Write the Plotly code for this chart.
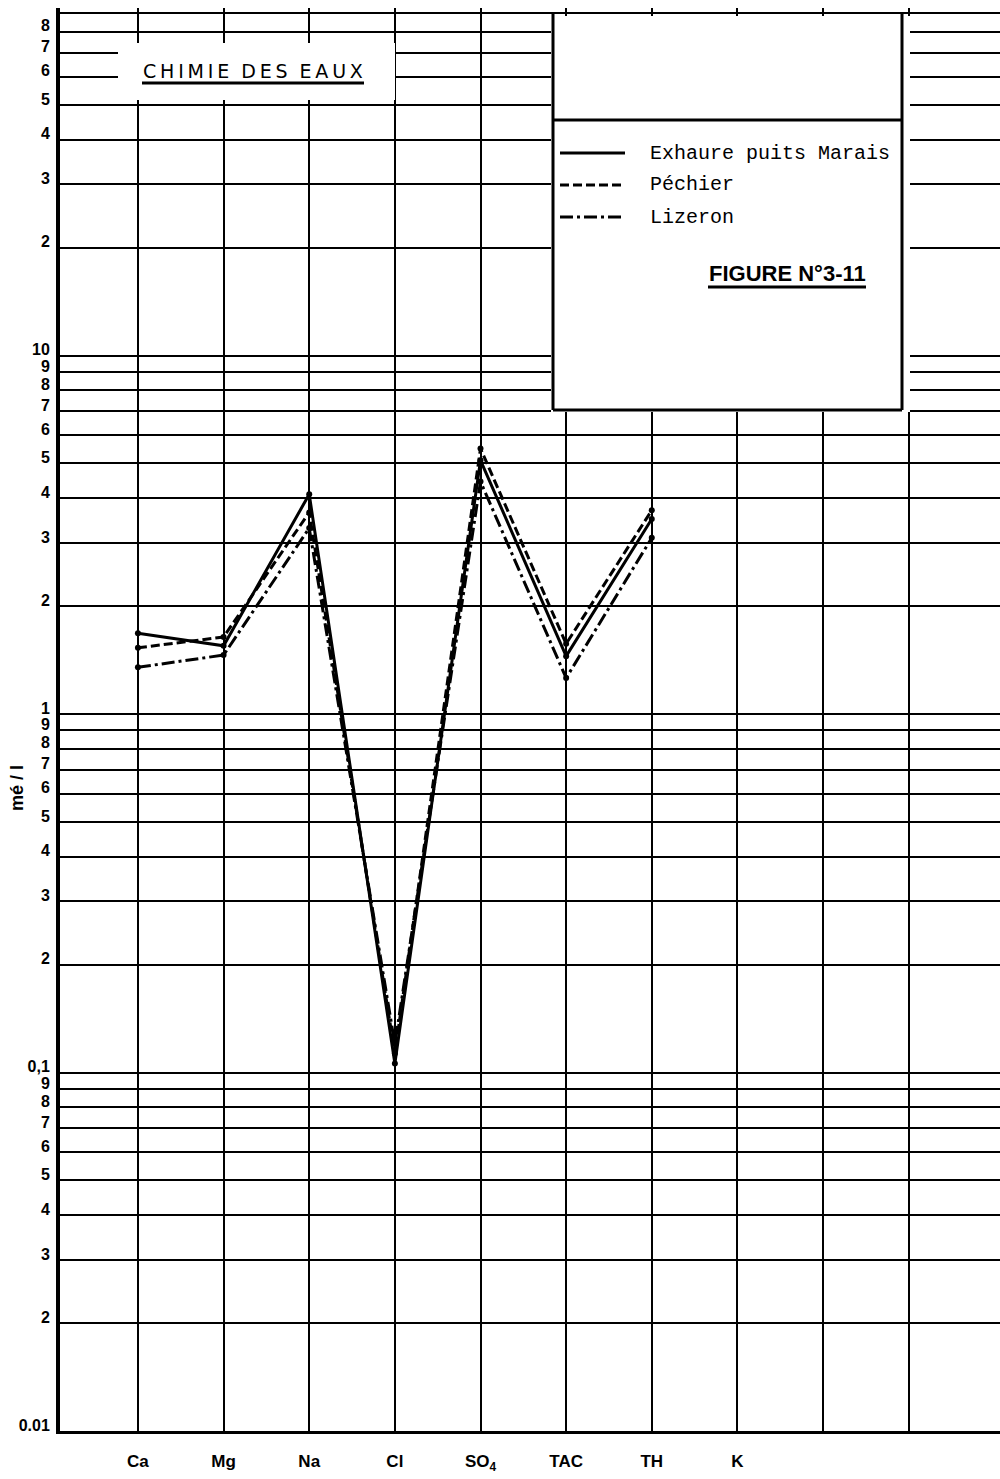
import math
import plotly.graph_objects as go

# Ion columns of the Schoeller diagram; two further blank columns follow K
ions = ["Ca", "Mg", "Na", "Cl", "SO<sub>4</sub>", "TAC", "TH", "K"]
n_blank_columns = 2

# Measured concentrations, mé/l (Ca .. TH)
exhaure_marais = [1.68, 1.55, 4.1, 0.106, 5.1, 1.45, 3.5]
pechier = [1.53, 1.64, 3.65, 0.113, 5.5, 1.57, 3.7]
lizeron = [1.35, 1.46, 3.3, 0.12, 4.45, 1.26, 3.1]

series_names = ["Exhaure puits Marais", "Péchier", "Lizeron"]

# Logarithmic grid: every integer multiple inside each decade
decades = [0.01, 0.1, 1, 10]
grid_vals = [d * k for d in decades for k in range(1, 10)]
decade_labels = ["0.01", "0,1", "1", "10"]
grid_text = [decade_labels[i] if k == 1 else str(k)
             for i in range(len(decades)) for k in range(1, 10)]

W, H = 1000, 1479
L, R, T, B = 60, 0, 8, 48
PW, PH = W - L - R, H - T - B


def px(xp):
    return (xp - L) / PW


def py(yp):
    return (H - B - yp) / PH


dash_styles = ["solid", "9px,4px", "13px,4px,3px,4px"]
series = [exhaure_marais, pechier, lizeron]

fig = go.Figure()
for name, vals, dash in zip(series_names, series, dash_styles):
    fig.add_trace(go.Scatter(
        x=list(range(len(vals))), y=vals, name=name,
        mode="lines+markers",
        line=dict(color="black", width=3, dash=dash),
        marker=dict(color="black", size=6),
        showlegend=False,
    ))

x_lo = -0.91
x_hi = 10.066
y_lo = math.log10(0.01)
y_hi = y_lo + PH / 358.5

blank_cols = [len(ions) + i for i in range(n_blank_columns)]

fig.update_layout(
    width=W, height=H,
    margin=dict(l=L, r=R, t=T, b=B, pad=0),
    paper_bgcolor="white", plot_bgcolor="white",
    xaxis=dict(
        range=[x_lo, x_hi], tickmode="array",
        tickvals=list(range(len(ions))), ticktext=ions,
        showgrid=True, gridcolor="black", gridwidth=2,
        minor=dict(tickmode="array", tickvals=blank_cols, showgrid=True,
                   gridcolor="black", gridwidth=2, ticks=""),
        zeroline=False, showline=True, linecolor="black", linewidth=3,
        ticks="", ticklabelstandoff=13,
        tickfont=dict(family="Liberation Sans Narrow, Liberation Sans, Arial",
                      size=17, color="black", weight="bold"),
    ),
    yaxis=dict(
        type="log", range=[y_lo, y_hi], tickmode="array",
        tickvals=grid_vals, ticktext=grid_text,
        showgrid=True, gridcolor="black", gridwidth=2,
        zeroline=False, showline=True, linecolor="black", linewidth=4,
        ticks="", ticklabelstandoff=3, ticklabelshift=-6,
        tickfont=dict(family="Liberation Sans, Arial", size=16,
                      color="black", weight="bold"),
    ),
)

shapes = []
# blank area behind the diagram title
shapes.append(dict(type="rect", xref="paper", yref="paper",
                   x0=px(118), x1=px(395), y0=py(100), y1=py(43),
                   fillcolor="white", line=dict(width=0), layer="above"))
# legend panel
shapes.append(dict(type="rect", xref="paper", yref="paper",
                   x0=px(551), x1=px(910), y0=py(412), y1=py(16),
                   fillcolor="white", line=dict(width=0), layer="above"))
box_l, box_r, box_t, box_b = 553, 902, 13, 410
for x0, y0, x1, y1 in [(box_l, box_t, box_l, box_b), (box_r, box_t, box_r, box_b),
                       (box_l, box_b, box_r, box_b), (box_l, 120, box_r, 120)]:
    shapes.append(dict(type="line", xref="paper", yref="paper",
                       x0=px(x0), x1=px(x1), y0=py(y0), y1=py(y1),
                       line=dict(color="black", width=3), layer="above"))
# legend line samples
for i, dash in enumerate(dash_styles):
    yy = 153 + 32 * i
    shapes.append(dict(type="line", xref="paper", yref="paper",
                       x0=px(560), x1=px(625), y0=py(yy), y1=py(yy),
                       line=dict(color="black", width=3, dash=dash), layer="above"))
# underlines
shapes.append(dict(type="line", xref="paper", yref="paper",
                   x0=px(142), x1=px(364), y0=py(83), y1=py(83),
                   line=dict(color="black", width=3), layer="above"))
shapes.append(dict(type="line", xref="paper", yref="paper",
                   x0=px(708), x1=px(866), y0=py(287), y1=py(287),
                   line=dict(color="black", width=3), layer="above"))
fig.update_layout(shapes=shapes)

thin = "\u2009"
title = thin.join("CHIMIE") + "\u00a0\u00a0" + thin.join("DES") + "\u00a0\u00a0" + thin.join("EAUX")

annotations = [
    dict(text=title, x=px(253), y=py(71),
         font=dict(family="DejaVu Sans", size=19, color="black")),
    dict(text="FIGURE N°3-11", x=px(787), y=py(273),
         font=dict(family="Liberation Sans Narrow, Liberation Sans, Arial",
                   size=22, color="black", weight="bold")),
    dict(text="mé / l", x=px(17), y=py(788), textangle=-90,
         font=dict(family="Liberation Sans, Arial", size=18, color="black",
                   weight="bold")),
]
for i, name in enumerate(series_names):
    annotations.append(dict(text=name, x=px(648), y=py(153 + 32 * i),
                            xanchor="left",
                            font=dict(family="Liberation Mono, Courier New",
                                      size=20, color="black")))
for a in annotations:
    a.setdefault("xanchor", "center")
    a.update(xref="paper", yref="paper", yanchor="middle", showarrow=False)
fig.update_layout(annotations=annotations)

fig.write_html("out.html")
